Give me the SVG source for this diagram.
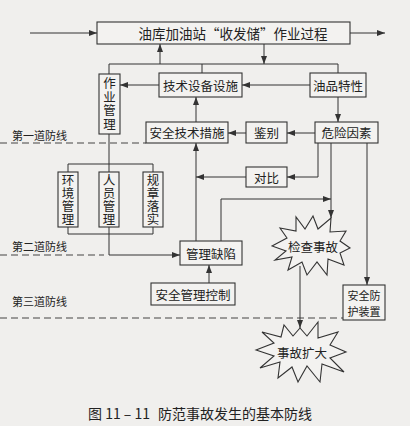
<svg xmlns="http://www.w3.org/2000/svg" width="410" height="426" viewBox="0 0 410 426">
<style>
.bx{fill:#f3f2f0;stroke:#333;stroke-width:1.1}
.ln{fill:none;stroke:#333;stroke-width:1}
.ar{fill:none;stroke:#333;stroke-width:1;marker-end:url(#ah)}
.ds{fill:none;stroke:#444;stroke-width:1.1;stroke-dasharray:7 4}
.t{font-family:"Noto Sans CJK SC","Noto Sans",sans-serif;font-size:12.5px;fill:#222;text-anchor:middle;dominant-baseline:central}
.v{font-family:"Noto Sans CJK SC","Noto Sans",sans-serif;font-size:12.5px;fill:#222;text-anchor:middle;writing-mode:vertical-rl;letter-spacing:0.5px}
.lb{font-family:"Noto Sans CJK SC","Noto Sans",sans-serif;font-size:11px;fill:#222;dominant-baseline:central}
.cap{font-family:"Noto Sans CJK SC","Noto Sans",sans-serif;font-size:14px;fill:#222;dominant-baseline:central}
</style>
<defs>
<marker id="ah" viewBox="0 0 8 6" refX="8" refY="3" markerWidth="8" markerHeight="6" markerUnits="userSpaceOnUse" orient="auto">
<path d="M0,0 L8,3 L0,6 z" fill="#333"/>
</marker>
</defs>
<rect width="410" height="426" fill="#f0efed"/>

<g id="defense-lines">
<path class="ds" d="M0,143 H146"/>
<path class="ds" d="M0,255 H104"/>
<path class="ds" d="M0,318 H343"/>
<text class="lb" x="12" y="135">第一道防线</text>
<text class="lb" x="12" y="246">第二道防线</text>
<text class="lb" x="12" y="301">第三道防线</text>
</g>

<g id="connectors">
<path class="ar" d="M30,33 H97"/>
<path class="ar" d="M350,33 H385"/>
<path class="ar" d="M160,64 V44"/>
<path class="ar" d="M264,44 V64"/>
<path class="ln" d="M109,74 V64 H338 V73 M202,64 V73"/>
<path class="ar" d="M159,85 H120"/>
<path class="ar" d="M310,85 H242"/>
<path class="ar" d="M338,97 V122"/>
<path class="ar" d="M315,133 H287"/>
<path class="ar" d="M246,133 H228"/>
<path class="ar" d="M196,122 V97"/>
<path class="ln" d="M109,134 V164 M68,172 V164 H153 V172 M109,164 V172"/>
<path class="ln" d="M68,227 V234 H153 V227 M109,227 V234"/>
<path class="ar" d="M109,234 V255 H180"/>
<path class="ar" d="M196,241 V143"/>
<path class="ar" d="M246,177 H196"/>
<path class="ar" d="M318,143 V177 H287"/>
<path class="ar" d="M221,241 V199 H331"/>
<path class="ar" d="M331,143 V218"/>
<path class="ar" d="M367,143 V285"/>
<path class="ar" d="M209,283 V265"/>
<path class="ar" d="M300,266 V328"/>
</g>

<g id="process">
<rect class="bx" x="97" y="22" width="253" height="22"/>
<text class="t" x="233" y="33" style="font-size:13.5px">油库加油站“收发储”作业过程</text>
</g>
<g id="op-mgmt">
<rect class="bx" x="99" y="74" width="21" height="60"/>
<text class="v" x="109.5" y="104" style="letter-spacing:1px">作业管理</text>
</g>
<g id="tech-equip">
<rect class="bx" x="159" y="73" width="83" height="24"/>
<text class="t" x="200.5" y="85">技术设备设施</text>
</g>
<g id="oil-prop">
<rect class="bx" x="310" y="73" width="56" height="24"/>
<text class="t" x="338" y="85">油品特性</text>
</g>
<g id="hazard">
<rect class="bx" x="315" y="122" width="63" height="21"/>
<text class="t" x="346.5" y="132.5">危险因素</text>
</g>
<g id="identify">
<rect class="bx" x="246" y="122" width="41" height="21"/>
<text class="t" x="266.5" y="132.5">鉴别</text>
</g>
<g id="safety-tech">
<rect class="bx" x="146" y="122" width="82" height="21"/>
<text class="t" x="187" y="132.5">安全技术措施</text>
</g>
<g id="compare">
<rect class="bx" x="246" y="167" width="41" height="20"/>
<text class="t" x="266.5" y="177">对比</text>
</g>
<g id="env-mgmt">
<rect class="bx" x="58" y="172" width="20" height="55"/>
<text class="v" x="68" y="199.5">环境管理</text>
</g>
<g id="staff-mgmt">
<rect class="bx" x="99" y="172" width="20" height="55"/>
<text class="v" x="109" y="199.5">人员管理</text>
</g>
<g id="rules">
<rect class="bx" x="143" y="172" width="20" height="55"/>
<text class="v" x="153" y="199.5">规章落实</text>
</g>
<g id="mgmt-defect">
<rect class="bx" x="180" y="241" width="62" height="24"/>
<text class="t" x="211" y="253">管理缺陷</text>
</g>
<g id="safety-mgmt">
<rect class="bx" x="151" y="283" width="84" height="22"/>
<text class="t" x="193" y="294">安全管理控制</text>
</g>
<g id="protect">
<rect class="bx" x="343" y="285" width="42" height="35"/>
<text class="t" x="364" y="294.5" style="font-size:11px">安全防<tspan x="364" dy="16">护装置</tspan></text>
</g>
<g id="inspect-accident">
<polygon class="bx" points="272,246 287,238 280,228 296,231 296,217 305,229 313,216 318,229 331,218 330,232 346,231 340,241 350,248 340,253 344,265 328,259 327,275 317,262 307,275 302,262 288,270 292,257 275,260 286,251"/>
<text class="t" x="313" y="246">检查事故</text>
</g>
<g id="accident-expand">
<polygon class="bx" points="256,350 274,343 262,332 281,337 284,325 293,336 300,328 307,336 318,322 318,338 338,332 330,345 346,352 330,358 344,372 322,364 320,382 307,366 298,382 292,367 278,378 280,362 260,368 274,356"/>
<text class="t" x="302" y="352">事故扩大</text>
</g>
<g id="caption">
<text class="cap" x="88" y="413">图 11 – 11<tspan x="158">防范事故发生的基本防线</tspan></text>
</g>
</svg>
